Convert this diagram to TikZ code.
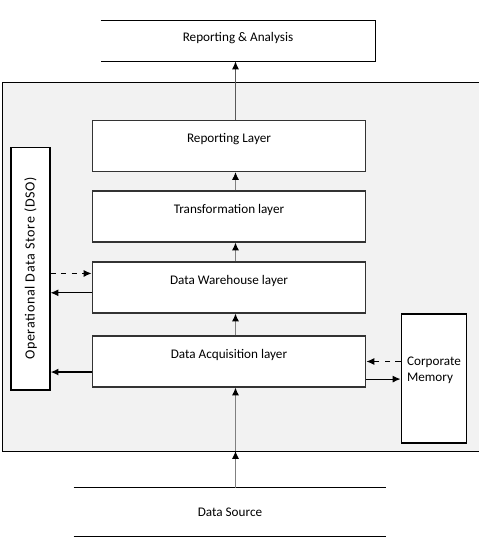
\documentclass[tikz,border=0pt]{standalone}
\usepackage{fontspec}
\setmainfont{Carlito}
\usetikzlibrary{arrows.meta}

\begin{document}
\begin{tikzpicture}[x=0.02cm, y=-0.02cm, >={Latex[length=4.5pt,width=4pt]},
    every node/.style={font=\fontsize{7.5}{9}\selectfont},
    layer/.style={draw=black!80, fill=white, line width=0.6pt, minimum width=5.48cm, minimum height=1.02cm, align=center},
    flow/.style={-{Latex[length=4.5pt,width=4pt,color=black]}, draw=black!50, line width=0.6pt}]
    \useasboundingbox (0,0) rectangle (479,539);

    % Grauer Rahmen
    \draw[fill=black!5, line width=0.5pt] (2,82) rectangle (484,451);
    \coordinate (pb) at (235.5,451);

    % Ausgabe oben
    \node[minimum width=5.48cm, minimum height=0.8cm, align=center] (ra) at (238,41) {Reporting \& Analysis\\[-4pt]~};
    \draw[line width=0.6pt] (ra.north west) -- (ra.north east) -- (ra.south east) -- (ra.south west);

    % Schichten
    \node[layer] (rep) at (229,146) {Reporting Layer\\~};
    \node[layer] (tr)  at (229,216.5) {Transformation layer\\~};
    \node[layer] (dw)  at (229,287.5) {Data Warehouse layer\\~};
    \node[layer] (da)  at (229,361.5) {Data Acquisition layer\\~};

    % Seitliche Speicher
    \node[draw, fill=white, line width=0.6pt, minimum width=0.78cm, minimum height=4.86cm] (ods) at (30.5,268.5) {};
    \node[rotate=90, font=\fontsize{8}{9}\addfontfeature{LetterSpace=5}\selectfont] at (ods.center) {Operational Data Store (DSO)};
    \node[draw, fill=white, line width=0.8pt, minimum width=1.24cm, minimum height=2.58cm, align=left] (cm) at (434,378.5) {Corporate\\Memory\\[2pt]~};

    % Quelle unten
    \node[minimum width=6.24cm, minimum height=0.96cm] (ds) at (230,512) {Data Source};
    \draw[line width=0.6pt] (ds.north west) -- (ds.north east);
    \draw[line width=0.6pt] (ds.south west) -- (ds.south east);

    % Pfeile nach oben
    \draw[flow, draw=black!65] (rep.north -| pb) -- (ra.south -| pb);
    \draw[flow] (tr.north -| pb) -- (rep.south -| pb);
    \draw[flow] (dw.north -| pb) -- (tr.south -| pb);
    \draw[flow] (da.north -| pb) -- (dw.south -| pb);
    \draw[flow] (ds.north -| pb) -- (pb);
    \draw[flow] (pb) -- (da.south -| pb);

    % Verbindungen zu ODS und Corporate Memory
    \draw[->, dashed, line width=0.5pt] ([yshift=8pt]ods.east |- dw.west) -- ([yshift=8pt]dw.west);
    \draw[->, line width=0.6pt] ([yshift=-3pt]dw.west) -- ([yshift=-3pt]ods.east |- dw.west);
    \draw[->, line width=1pt] ([yshift=-6pt]da.west) -- ([yshift=-6pt]ods.east |- da.west);
    \draw[->, dashed, line width=0.5pt] (cm.west |- da.east) -- (da.east);
    \draw[->, line width=0.6pt] ([yshift=-10pt]da.east) -- ([yshift=-10pt]cm.west |- da.east);
\end{tikzpicture}
\end{document}
